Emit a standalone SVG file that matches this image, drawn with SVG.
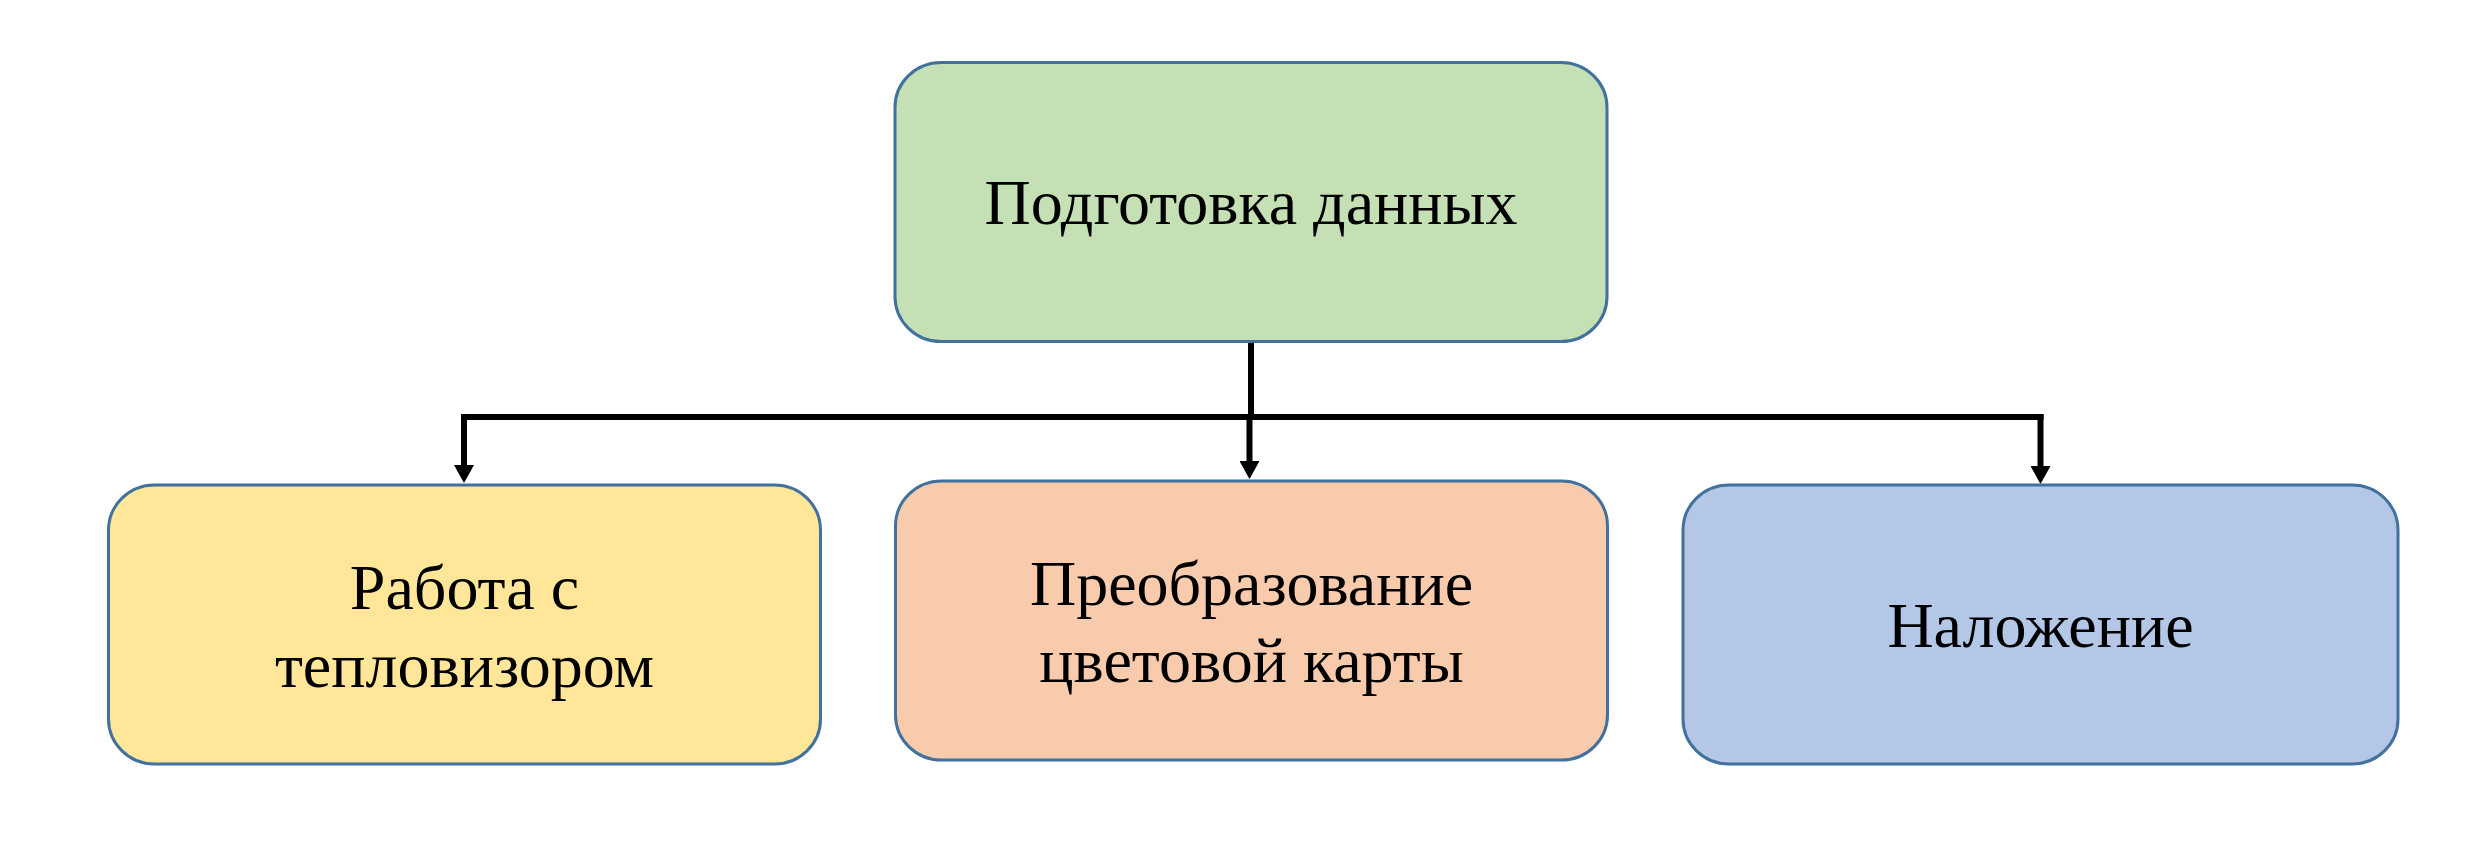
<svg xmlns="http://www.w3.org/2000/svg" width="2482" height="846" viewBox="0 0 2482 846">
  <style>
    .box { stroke: #41719C; stroke-width: 3; }
    .label { font-family: "Liberation Serif", "Times New Roman", serif; font-size: 64px; fill: #000; text-anchor: middle; }
    .wire { fill: none; stroke: #000; stroke-width: 6; }
  </style>
  <defs>
    <!-- solid triangular head; reference point at its base so the shaft stops under it -->
    <marker id="arrow" markerUnits="userSpaceOnUse" markerWidth="18" markerHeight="20" refX="0" refY="10" orient="auto" viewBox="0 0 18 20">
      <path d="M0,0 L18,10 L0,20 Z" fill="#000"/>
    </marker>
  </defs>
  <rect width="2482" height="846" fill="#fff"/>

  <!-- connectors: trunk from the root, bus, three drops -->
  <g id="connectors">
    <path class="wire" d="M1251,341 V417"/>
    <path class="wire" d="M461,417 H2043.5"/>
    <path class="wire" d="M464,414 V465" marker-end="url(#arrow)"/>
    <path class="wire" d="M1249.5,414 V461" marker-end="url(#arrow)"/>
    <path class="wire" d="M2040.5,414 V466" marker-end="url(#arrow)"/>
  </g>

  <g id="node-prep">
    <rect class="box" x="895" y="62.5" width="712" height="279" rx="46" ry="45" fill="#C5E0B4"/>
    <text class="label" x="1251" y="224">Подготовка данных</text>
  </g>

  <g id="node-thermal">
    <rect class="box" x="108.5" y="485" width="712" height="279" rx="46" ry="45" fill="#FFE699"/>
    <text class="label" x="464.5" y="609">Работа с</text>
    <text class="label" x="464.5" y="687">тепловизором</text>
  </g>

  <g id="node-colormap">
    <rect class="box" x="895.5" y="481" width="712" height="279" rx="46" ry="45" fill="#F8CBAD"/>
    <text class="label" x="1251.5" y="605">Преобразование</text>
    <text class="label" x="1251.5" y="682">цветовой карты</text>
  </g>

  <g id="node-overlay">
    <rect class="box" x="1683" y="485" width="715" height="279" rx="46" ry="45" fill="#B4C7E7"/>
    <text class="label" x="2040.5" y="647">Наложение</text>
  </g>
</svg>
